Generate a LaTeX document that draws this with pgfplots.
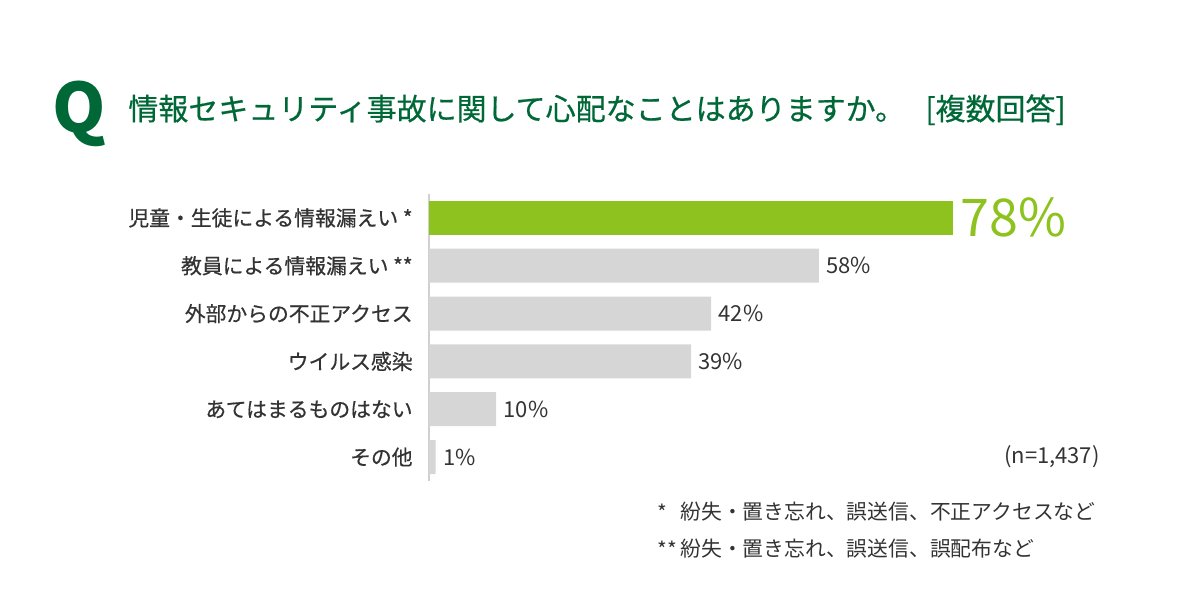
\documentclass[border=0pt]{standalone}
\usepackage{fontspec}
\setmainfont{Noto Sans CJK JP}
\newfontfamily\medfont{Noto Sans CJK JP}[FakeBold=0.6]
\usepackage{pgfplots}
\pgfplotsset{compat=1.18}
\definecolor{qgreen}{RGB}{0,104,55}
\definecolor{bargreen}{RGB}{141,194,31}
\definecolor{bargray}{RGB}{214,214,214}
\definecolor{txt}{RGB}{51,51,51}
\definecolor{axgray}{RGB}{208,208,208}

\begin{document}
\begin{tikzpicture}
\useasboundingbox (-214.5pt,-66.5pt) rectangle (385.5pt,240.5pt);
\begin{axis}[
    at={(0pt,0pt)}, anchor=south west,
    scale only axis, width=336pt, height=143.5pt,
    xmin=0, xmax=100, ymin=0.5, ymax=6.5, y dir=reverse,
    xbar, bar width=17pt, bar shift=0pt,
    axis x line=none, axis y line*=left,
    y axis line style={draw=axgray, line width=1pt, -},
    ytick={1,...,6},
    yticklabels={児童・生徒による情報漏えい *, 教員による情報漏えい **, 外部からの不正アクセス, ウイルス感染, あてはまるものはない, その他},
    major tick length=0pt,
    yticklabel style={font=\medfont\fontsize{10.4}{12}\selectfont, text=txt, inner sep=0pt, xshift=-8pt},
    /pgf/number format/assume math mode=true,
]
% highlighted bar
\addplot[fill=bargreen, draw=none,
    nodes near coords={\pgfmathprintnumber{\pgfplotspointmeta}\%},
    nodes near coords style={font=\fontsize{26}{30}\selectfont, text=bargreen, inner sep=0pt, xshift=3.5pt}]
    coordinates {(78,1)};
% other bars
\addplot[fill=bargray, draw=none,
    nodes near coords={\pgfmathprintnumber{\pgfplotspointmeta}\%},
    nodes near coords style={font=\fontsize{11}{13}\selectfont, text=txt, inner sep=0pt, xshift=3.5pt}]
    coordinates {(58,2) (42,3) (39,4) (10,5) (1,6)};
\end{axis}
% title
\node[anchor=base west, inner sep=0pt, text=qgreen, font=\fontsize{34}{34}\selectfont\bfseries] at (-188.5pt,174pt) {Q};
\node[anchor=base west, inner sep=0pt, text=qgreen, font=\medfont\fontsize{15}{17}\selectfont] at (-150.5pt,180.5pt) {情報セキュリティ事故に関して心配なことはありますか。};
\node[anchor=base west, inner sep=0pt, text=qgreen, font=\medfont\fontsize{15}{17}\selectfont] at (248pt,180.5pt) {[複数回答]};
% sample size and notes
\node[anchor=east, inner sep=0pt, text=txt, font=\fontsize{11}{13}\selectfont] at (335.5pt,12pt) {(n=1,437)};
\node[anchor=west, inner sep=0pt, text=txt, font=\fontsize{10.4}{12}\selectfont] at (114pt,-15.5pt) {*};
\node[anchor=west, inner sep=0pt, text=txt, font=\fontsize{10.4}{12}\selectfont] at (125.5pt,-15.5pt) {紛失・置き忘れ、誤送信、不正アクセスなど};
\node[anchor=west, inner sep=0pt, text=txt, font=\fontsize{10.4}{12}\selectfont] at (114pt,-34pt) {**};
\node[anchor=west, inner sep=0pt, text=txt, font=\fontsize{10.4}{12}\selectfont] at (125.5pt,-34pt) {紛失・置き忘れ、誤送信、誤配布など};
\end{tikzpicture}
\end{document}
